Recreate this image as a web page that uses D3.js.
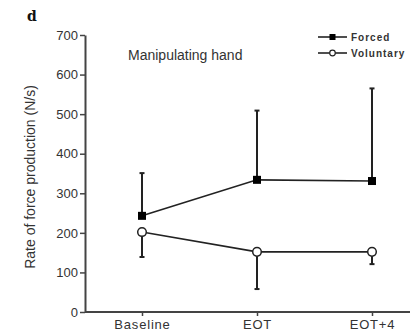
<!DOCTYPE html>
<html>
<head>
<meta charset="utf-8">
<script src="https://cdn.jsdelivr.net/npm/d3@7"></script>
<style>
  body { margin: 0; background: #fff; }
  svg { display: block; }
</style>
</head>
<body>
<div id="chart"></div>
<script>
// timepoints
const categories = ["Baseline", "EOT", "EOT+4"];
// means and error bar ends (N/s)
const forcedMean = [243, 334, 331];
const forcedUpper = [351, 509, 565];
const voluntaryMean = [202, 152, 152];
const voluntaryLower = [139, 58, 121];
const yTicks = [0, 100, 200, 300, 400, 500, 600, 700];

const w = 418, h = 336;
const margin = { left: 85, right: 8, top: 35, bottom: 24 };
const ink = "#222";

const svg = d3.select("#chart").append("svg")
    .attr("width", w)
    .attr("height", h)
    .style("font-family", "Arial, 'Liberation Sans', sans-serif");

const yScale = d3.scaleLinear()
    .domain([0, 700])
    .range([h - margin.bottom, margin.top]);

const xScale = d3.scalePoint()
    .domain(categories)
    .range([142, 372]);

// Y axis
const yAxis = d3.axisLeft(yScale).tickValues(yTicks).tickSize(5).tickSizeOuter(0);
const gy = svg.append("g")
    .attr("transform", "translate(" + margin.left + ",0)")
    .call(yAxis);
gy.select(".domain").attr("stroke", "#444").attr("stroke-width", 2);
gy.selectAll(".tick line").attr("stroke", "#444").attr("stroke-width", 1.5);
gy.selectAll(".tick text").attr("fill", "#333").style("font-size", "13px").attr("x", -7);

// X axis
const xAxis = d3.axisBottom(xScale).tickSize(4).tickSizeOuter(0);
const gx = svg.append("g")
    .attr("transform", "translate(0," + (h - margin.bottom) + ")")
    .call(xAxis);
gx.select(".domain").attr("d", "M" + margin.left + ",0H" + (w - margin.right))
    .attr("stroke", "#444").attr("stroke-width", 2);
gx.selectAll(".tick line").attr("stroke", "#444").attr("stroke-width", 1.5);
gx.selectAll(".tick text").attr("fill", "#333").style("font-size", "13px")
    .style("letter-spacing", "0.8px").attr("y", 8);

// lines
const forced = categories.map((c, i) => ({ c: c, v: forcedMean[i], e: forcedUpper[i] }));
const voluntary = categories.map((c, i) => ({ c: c, v: voluntaryMean[i], e: voluntaryLower[i] }));

const line = d3.line()
    .x(d => xScale(d.c))
    .y(d => yScale(d.v));

[forced, voluntary].forEach(series => {
    // error bars
    svg.append("g").selectAll("g")
        .data(series)
        .enter()
        .append("g")
        .each(function (d) {
            const g = d3.select(this);
            const x = xScale(d.c);
            g.append("line")
                .attr("x1", x).attr("x2", x)
                .attr("y1", yScale(d.v)).attr("y2", yScale(d.e))
                .attr("stroke", ink).attr("stroke-width", 2);
            g.append("line")
                .attr("x1", x - 2.5).attr("x2", x + 2.5)
                .attr("y1", yScale(d.e)).attr("y2", yScale(d.e))
                .attr("stroke", ink).attr("stroke-width", 2);
        });
    svg.append("path")
        .datum(series)
        .attr("fill", "none")
        .attr("stroke", ink)
        .attr("stroke-width", 1.6)
        .attr("d", line);
});

// markers
svg.selectAll("rect.forced")
    .data(forced)
    .enter()
    .append("rect")
    .attr("class", "forced")
    .attr("x", d => xScale(d.c) - 4)
    .attr("y", d => yScale(d.v) - 4)
    .attr("width", 8)
    .attr("height", 8)
    .attr("fill", "#000");

svg.selectAll("circle.vol")
    .data(voluntary)
    .enter()
    .append("circle")
    .attr("class", "vol")
    .attr("cx", d => xScale(d.c))
    .attr("cy", d => yScale(d.v))
    .attr("r", 4.3)
    .attr("fill", "#fff")
    .attr("stroke", ink)
    .attr("stroke-width", 1.5);

// y label
svg.append("text")
    .attr("transform", "translate(35," + 177 + ") rotate(-90)")
    .attr("text-anchor", "middle")
    .attr("fill", "#333")
    .style("font-size", "14px")
    .text("Rate of force production (N/s)");

// panel letter
svg.append("text")
    .attr("x", 27).attr("y", 21)
    .attr("fill", "#111")
    .style("font-family", "'DejaVu Serif', 'Liberation Serif', serif")
    .style("font-weight", "bold")
    .style("font-size", "14px")
    .text("d");

// title
svg.append("text")
    .attr("x", 128).attr("y", 60)
    .attr("fill", "#333")
    .style("font-size", "14px")
    .text("Manipulating hand");

// legend
const legend = [
    { name: "Forced", shape: "square", y: 37 },
    { name: "Voluntary", shape: "circle", y: 53 }
];
const lg = svg.append("g");
legend.forEach(d => {
    lg.append("line")
        .attr("x1", 318).attr("x2", 347)
        .attr("y1", d.y).attr("y2", d.y)
        .attr("stroke", ink).attr("stroke-width", 1.6);
    if (d.shape === "square") {
        lg.append("rect")
            .attr("x", 329.5).attr("y", d.y - 3)
            .attr("width", 6).attr("height", 6)
            .attr("fill", "#000");
    } else {
        lg.append("circle")
            .attr("cx", 332.5).attr("cy", d.y)
            .attr("r", 2.8)
            .attr("fill", "#fff").attr("stroke", ink).attr("stroke-width", 1.2);
    }
    lg.append("text")
        .attr("x", 351).attr("y", d.y + 4)
        .attr("fill", "#333")
        .style("font-size", "10px")
        .style("font-weight", "bold")
        .style("letter-spacing", "1px")
        .text(d.name);
});
</script>
</body>
</html>
